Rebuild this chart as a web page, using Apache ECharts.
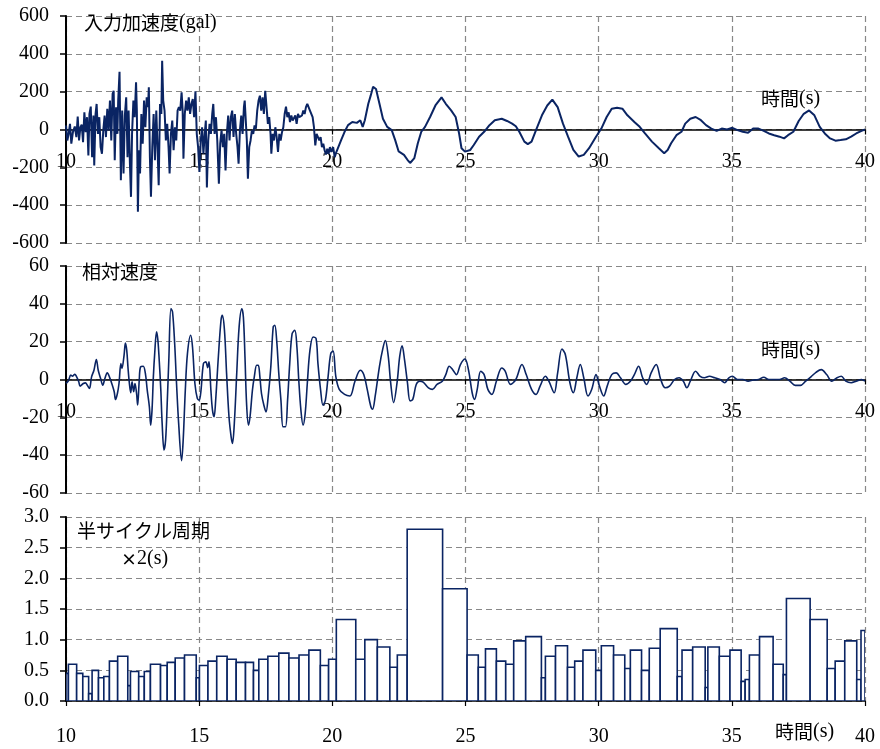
<!DOCTYPE html>
<html><head><meta charset="utf-8">
<script src="https://cdn.jsdelivr.net/npm/echarts@6/dist/echarts.min.js"></script>
<style>html,body{margin:0;padding:0;background:#fff}#c{width:880px;height:749px}</style>
</head><body><div id="c"></div>
<script>
// ---- data ----
const xTicks = [10, 15, 20, 25, 30, 35, 40];
const accT = [10.00,10.05,10.10,10.15,10.20,10.26,10.33,10.39,10.44,10.49,10.54,10.59,10.64,10.69,10.74,10.79,10.84,10.88,10.93,10.98,11.03,11.06,11.11,11.15,11.20,11.25,11.30,11.35,11.40,11.45,11.50,11.55,11.60,11.65,11.70,11.75,11.79,11.83,11.88,11.93,11.96,12.01,12.06,12.11,12.16,12.21,12.26,12.31,12.35,12.40,12.44,12.48,12.53,12.58,12.63,12.66,12.70,12.74,12.78,12.83,12.88,12.93,12.98,13.03,13.08,13.11,13.15,13.19,13.24,13.29,13.34,13.39,13.44,13.48,13.53,13.58,13.61,13.65,13.70,13.75,13.80,13.85,13.89,13.94,13.99,14.04,14.09,14.14,14.19,14.24,14.29,14.34,14.38,14.41,14.46,14.51,14.56,14.61,14.66,14.71,14.76,14.81,14.86,14.91,14.96,15.01,15.06,15.11,15.16,15.21,15.25,15.29,15.34,15.39,15.44,15.49,15.53,15.58,15.63,15.68,15.74,15.79,15.84,15.89,15.94,15.99,16.04,16.09,16.14,16.19,16.24,16.29,16.34,16.39,16.44,16.48,16.53,16.58,16.63,16.68,16.71,16.75,16.79,16.83,16.88,16.93,16.98,17.03,17.08,17.13,17.18,17.23,17.28,17.33,17.38,17.43,17.48,17.53,17.58,17.63,17.68,17.71,17.76,17.81,17.86,17.91,17.96,18.01,18.06,18.11,18.16,18.21,18.26,18.31,18.36,18.41,18.46,18.51,18.56,18.61,18.66,18.71,18.76,18.81,18.86,18.91,18.96,19.01,19.06,19.11,19.16,19.21,19.26,19.31,19.36,19.41,19.46,19.51,19.56,19.61,19.66,19.71,19.76,19.81,19.86,19.91,19.96,20.03,20.09,20.15,
20.20,20.33,20.46,20.59,20.75,20.92,21.05,21.14,21.22,21.35,21.44,21.53,21.64,21.77,21.90,22.06,22.23,22.36,22.49,22.69,22.82,22.92,23.08,23.21,23.34,23.48,23.67,23.87,24.10,24.26,24.46,24.63,24.76,24.85,24.98,25.18,25.31,25.51,25.70,25.90,26.10,26.36,26.56,26.75,26.89,27.02,27.21,27.34,27.48,27.67,27.87,28.07,28.26,28.46,28.66,28.85,29.05,29.25,29.44,29.64,29.90,30.10,30.30,30.49,30.69,30.89,31.08,31.34,31.54,31.74,32.00,32.26,32.46,32.59,32.72,32.92,33.11,33.25,33.44,33.64,33.84,34.03,34.23,34.43,34.62,34.82,35.02,35.21,35.41,35.61,35.80,36.00,36.20,36.39,36.59,36.79,36.96,37.11,37.31,37.51,37.70,37.90,38.10,38.30,38.49,38.69,38.89,39.08,39.28,39.48,39.67,39.87,40.00];
const accV = [21,-58,-23,30,-75,-14,16,-40,68,-58,12,26,-67,91,-14,65,-137,82,121,-146,74,-190,82,135,-23,65,-93,-128,-5,74,-40,109,-5,153,-58,188,205,-163,118,-23,153,305,-268,100,-233,74,170,-146,100,-181,-356,-23,153,65,249,100,-435,-110,-233,82,-75,153,12,170,118,223,-146,-356,-93,82,-163,100,-110,-295,135,82,363,153,100,-58,30,-93,-233,-23,47,-110,12,-58,100,118,100,196,100,-154,82,153,100,170,82,135,161,65,202,-23,-93,-225,-58,12,-128,-23,47,-307,-58,30,-23,82,135,-23,65,-58,-286,-75,-5,-93,-23,-216,-23,74,-58,65,100,-40,82,-23,-93,-181,-5,74,-23,118,153,161,-58,-260,-93,-58,-5,-23,21,4,100,153,179,100,170,82,205,118,30,65,-23,-128,-23,-58,12,-40,-119,-23,-58,-14,12,82,121,65,91,39,74,47,39,74,30,82,65,56,74,100,82,118,135,144,100,109,65,12,-84,-23,-14,-58,-40,-93,-75,-110,-132,-102,-128,-93,-119,-93,-146,-119,
-116,-56,-12,23,40,35,49,14,49,136,179,226,214,136,57,14,-3,-56,-116,-134,-160,-177,-151,-73,-12,14,66,127,170,136,101,66,-21,-99,-117,-108,-82,-38,-12,23,49,57,45,31,17,-12,-64,-77,-64,5,75,127,158,118,31,-38,-108,-143,-134,-99,-38,5,66,110,115,110,75,40,14,-21,-64,-99,-125,-108,-73,-30,-12,31,57,66,49,23,5,-7,5,0,9,-3,-12,-17,5,5,-7,-21,-30,-38,-47,-30,-12,45,83,101,75,14,-21,-47,-59,-56,-52,-38,-21,-7,0];

const velT = [10.00,10.09,10.18,10.25,10.33,10.40,10.48,10.53,10.65,10.73,10.80,10.88,10.96,11.05,11.14,11.21,11.30,11.38,11.46,11.55,11.63,11.74,11.81,11.86,11.93,11.99,12.06,12.10,12.18,12.23,12.28,12.33,12.38,12.43,12.48,12.54,12.59,12.65,12.69,12.75,12.80,12.90,12.98,13.05,13.13,13.18,13.23,13.28,13.33,13.40,13.45,13.50,13.56,13.61,13.68,13.74,13.80,13.86,13.94,14.00,14.08,14.15,14.23,14.34,14.40,14.48,14.56,14.68,14.75,14.84,14.93,
15.00,15.07,15.16,15.25,15.32,15.37,15.44,15.50,15.56,15.62,15.72,15.82,15.87,15.95,16.03,16.12,16.20,16.25,16.32,16.41,16.50,16.60,16.66,16.72,16.78,16.85,16.91,17.00,17.07,17.16,17.22,17.28,17.34,17.43,17.51,17.59,17.69,17.78,17.84,17.91,17.99,18.07,18.15,18.24,18.32,18.40,18.49,18.59,18.67,18.74,18.82,18.90,18.98,19.06,19.16,19.28,19.39,19.46,19.56,19.65,19.74,19.84,19.94,20.03,
20.13,20.26,20.46,20.66,20.85,21.05,21.18,21.31,21.44,21.51,21.61,21.77,21.90,21.99,22.10,22.19,22.30,22.43,22.53,22.62,22.71,22.82,22.92,23.02,23.15,23.28,23.41,23.61,23.76,23.93,24.13,24.26,24.39,24.52,24.66,24.81,24.98,25.11,25.25,25.34,25.44,25.57,25.70,25.84,25.99,26.16,26.36,26.49,26.69,26.89,27.12,27.28,27.48,27.65,27.80,28.00,28.13,28.33,28.46,28.62,28.75,28.92,29.05,29.18,29.31,29.44,29.60,29.74,29.90,30.03,30.19,30.32,30.49,30.66,30.82,31.02,31.19,31.34,31.50,31.65,31.80,31.97,32.16,32.33,32.50,32.66,32.85,33.02,33.18,33.31,33.44,33.64,33.81,33.97,34.16,34.36,34.56,34.73,34.89,35.02,35.21,35.41,35.61,35.80,36.00,36.20,36.39,36.59,36.79,36.98,37.18,37.38,37.57,37.77,37.97,38.16,38.36,38.56,38.75,38.95,39.11,39.28,39.48,39.67,39.87,40.00];
const velV = [-2.1,-0.7,2.3,1.8,2.8,1.4,-1.2,-3.5,-2.1,-1.8,-3.0,-4.7,1.4,4.9,10.6,4.9,0.5,-3.0,0.5,3.5,1.4,-3.0,-6.5,-10.6,-7.4,-2.1,8.4,5.8,12.8,19.3,15.5,5.8,-2.1,-7.0,-1.2,-6.5,-2.1,-7.4,-13.5,-0.4,6.7,7.0,3.2,-5.6,-14.4,-24.1,-16.2,1.4,13.7,25.2,20.8,10.2,-5.6,-23.2,-37.3,-32.0,-12.7,10.2,37.5,35.7,19.0,-2.1,-23.2,-42.9,-32.0,-5.6,13.7,23.4,17.2,-2.1,-10.0,
-10.9,-5.6,8.4,9.3,6.3,9.3,-5.6,-16.2,-19.7,-10.9,11.9,31.3,33.9,26.0,3.1,-19.7,-30.3,-33.8,-23.2,3.1,27.8,37.4,33.0,11.9,-12.7,-24.1,-19.7,-5.6,1.4,7.5,7.5,1.4,-7.4,-13.6,-17.1,-9.2,6.7,27.8,28.6,20.7,3.1,-10.9,-25.0,-25.0,-10.9,8.4,24.2,26.0,17.2,-0.4,-16.2,-24.1,-18.0,-2.1,15.5,22.5,21.6,8.4,-5.6,-13.6,-10.9,1.4,13.7,15.0,
1.7,-5.2,-7.9,-8.7,-0.9,4.9,2.6,-5.2,-14.0,-15.7,-8.7,7.0,16.6,20.6,12.2,-1.7,-12.2,-1.7,12.2,17.8,10.5,-1.7,-11.3,-10.5,-2.6,-0.9,-1.4,-4.4,-5.2,-2.6,-0.9,2.6,7.0,5.2,2.6,7.9,10.8,5.2,-7.0,-10.5,-5.2,4.4,2.6,-5.2,-7.9,-0.9,6.1,4.4,-2.6,0,7.9,2.6,-5.2,-7.9,-3.5,1.7,-0.9,-7.0,3.5,16.1,13.1,-1.7,-7.0,0.9,7.9,0.9,-8.7,-5.2,2.6,-3.5,-8.7,-3.5,2.6,3.5,0.9,-2.6,-0.9,2.6,7.0,0.9,-2.6,3.5,7.9,0,-4.4,-3.5,0,0.9,-0.9,-4.4,-0.9,4.4,1.7,0.9,1.7,0.9,0,-1.7,0.9,1.7,0,0,-0.9,-0.3,0,1.2,0,0,0,0.9,-0.9,-3.1,-3.1,-0.9,1.4,3.8,5.2,2.6,-0.9,0.9,1.7,-0.9,-1.7,-0.9,0,-0.9];

const barEdges = [10.00,10.09,10.40,10.63,10.85,10.98,11.22,11.42,11.63,11.94,12.32,12.42,12.73,12.94,13.17,13.55,13.80,14.10,14.45,14.89,15.01,15.33,15.66,16.05,16.39,16.74,17.04,17.24,17.58,17.99,18.37,18.75,19.12,19.55,19.86,20.15,20.88,21.22,21.69,22.16,22.44,22.81,24.14,25.06,25.48,25.75,26.16,26.51,26.81,27.26,27.85,28.00,28.38,28.83,29.10,29.41,29.89,30.10,30.56,30.98,31.19,31.61,31.90,32.31,32.95,33.13,33.53,34.00,34.10,34.53,34.93,35.35,35.50,35.66,36.04,36.55,36.93,37.05,37.94,38.58,38.88,39.24,39.69,39.85,40.00];
const barHeights = [0.45,0.60,0.45,0.40,0.12,0.50,0.38,0.40,0.65,0.73,0.25,0.48,0.40,0.48,0.60,0.58,0.63,0.70,0.75,0.38,0.58,0.65,0.73,0.68,0.63,0.63,0.50,0.68,0.73,0.78,0.70,0.75,0.83,0.58,0.68,1.33,0.68,1.00,0.88,0.55,0.75,2.80,1.83,0.75,0.55,0.85,0.65,0.60,0.98,1.05,0.38,0.73,0.90,0.55,0.65,0.83,0.50,0.90,0.75,0.53,0.83,0.50,0.86,1.18,0.40,0.83,0.88,0.22,0.88,0.73,0.83,0.32,0.35,0.75,1.05,0.60,0.43,1.67,1.33,0.53,0.65,0.98,0.35,1.15];

// ---- chart ----
const NAVY = '#0a2463';
const SERIF = '"Liberation Serif","Times New Roman",serif';
const CJK = '"Noto Sans CJK JP","Noto Sans",sans-serif';
const accData = accT.map((t, i) => [t, accV[i]]);
const velData = velT.map((t, i) => [t, velV[i]]);
const barData = barHeights.map((h, i) => [barEdges[i], barEdges[i + 1], h]);

const grids = [
  {left: 66, width: 799, top: 16, height: 227},
  {left: 66, width: 799, top: 266, height: 227},
  {left: 66, width: 799, top: 517, height: 184}
];
const splitLine = {show: true, lineStyle: {color: '#888', type: [6, 4], width: 1.2}};
function xAx(i, margin, offset) {
  return {
    type: 'value', gridIndex: i, min: 10, max: 40, interval: 5,
    position: 'bottom', offset: offset,
    axisLine: {onZero: false, lineStyle: {color: '#000', width: 1.5}},
    axisTick: {show: true, length: 5, lineStyle: {color: '#000', width: 1.2}},
    axisLabel: {fontFamily: SERIF, fontSize: 20, color: '#000', margin: margin},
    splitLine: splitLine
  };
}
function yAx(i, min, max, step, dec) {
  return {
    type: 'value', gridIndex: i, min: min, max: max, interval: step,
    axisLine: {show: true, onZero: false, lineStyle: {color: '#000', width: 2}},
    axisTick: {show: true, length: 6, lineStyle: {color: '#000', width: 1.5}},
    axisLabel: {fontFamily: SERIF, fontSize: 20, color: '#000', margin: 17,
      formatter: v => dec ? v.toFixed(1) : String(v)},
    splitLine: splitLine
  };
}
const chart = echarts.init(document.getElementById('c'), null, {renderer: 'canvas'});
chart.setOption({
  animation: false,
  backgroundColor: '#fff',
  grid: grids,
  xAxis: [xAx(0, 22, -113.5), xAx(1, 22, -113.5), xAx(2, 26, 0)],
  yAxis: [yAx(0, -600, 600, 200, false), yAx(1, -60, 60, 20, false), yAx(2, 0, 3, 0.5, true)],
  series: [
    {type: 'line', xAxisIndex: 0, yAxisIndex: 0, data: accData, showSymbol: false,
      lineStyle: {color: NAVY, width: 2}, z: 3},
    {type: 'line', xAxisIndex: 1, yAxisIndex: 1, data: velData, showSymbol: false, smooth: 0.35,
      lineStyle: {color: NAVY, width: 1.6}, z: 3},
    {type: 'custom', xAxisIndex: 2, yAxisIndex: 2, data: barData, clip: true,
      encode: {x: [0, 1], y: 2},
      renderItem: function (params, api) {
        const p0 = api.coord([api.value(0), api.value(2)]);
        const p1 = api.coord([api.value(1), 0]);
        return {type: 'rect',
          shape: {x: p0[0], y: p0[1], width: p1[0] - p0[0], height: p1[1] - p0[1]},
          style: {fill: '#fff', stroke: NAVY, lineWidth: 1.6}};
      }, z: 3}
  ],
  graphic: [
    {type: 'text', left: 84, top: 13, z: 10, style: {text: '{a|入力加速度}{b|(gal)}',
      rich: {a: {fontFamily: CJK, fontSize: 19, fill: '#000'}, b: {fontFamily: SERIF, fontSize: 20, fill: '#000'}}}},
    {type: 'text', left: 761, top: 89, z: 10, style: {text: '{a|時間}{b|(s)}',
      rich: {a: {fontFamily: CJK, fontSize: 19, fill: '#000'}, b: {fontFamily: SERIF, fontSize: 20, fill: '#000'}}}},
    {type: 'text', left: 82, top: 262, z: 10, style: {text: '相対速度', fontFamily: CJK, fontSize: 19, fill: '#000'}},
    {type: 'text', left: 761, top: 340, z: 10, style: {text: '{a|時間}{b|(s)}',
      rich: {a: {fontFamily: CJK, fontSize: 19, fill: '#000'}, b: {fontFamily: SERIF, fontSize: 20, fill: '#000'}}}},
    {type: 'text', left: 77, top: 521, z: 10, style: {text: '半サイクル周期', fontFamily: CJK, fontSize: 19, fill: '#000'}},
    {type: 'text', left: 121, top: 549, z: 10, style: {text: '{a|×}{b|2(s)}',
      rich: {a: {fontFamily: CJK, fontSize: 16, fontWeight: 'bold', fill: '#000'}, b: {fontFamily: SERIF, fontSize: 20, fill: '#000'}}}},
    {type: 'text', left: 775, top: 722, z: 10, style: {text: '{a|時間}{b|(s)}',
      rich: {a: {fontFamily: CJK, fontSize: 19, fill: '#000'}, b: {fontFamily: SERIF, fontSize: 20, fill: '#000'}}}}
  ]
});
</script></body></html>
